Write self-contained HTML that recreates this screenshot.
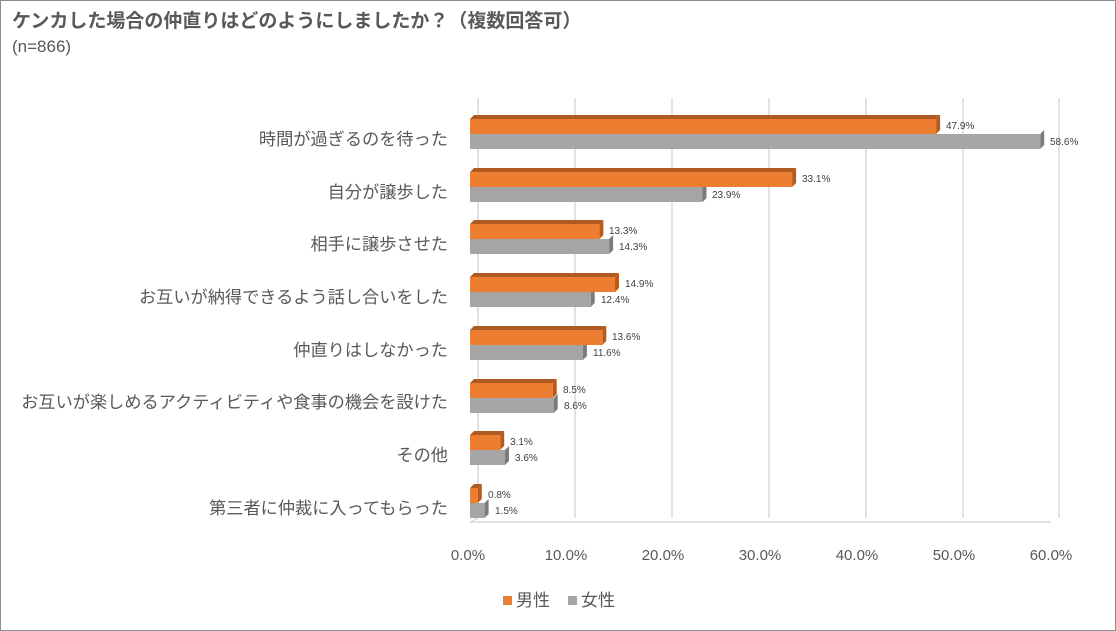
<!DOCTYPE html><html><head><style>body{margin:0}svg{display:block}</style></head><body>
<svg width="1116" height="631" xmlns="http://www.w3.org/2000/svg" font-family="Liberation Sans, Noto Sans CJK JP, sans-serif">
<rect x="0.5" y="0.5" width="1115" height="630" fill="#fff" stroke="#8c8c8c"/>
<text x="12" y="27" font-size="19" font-weight="bold" fill="#595959">ケンカした場合の仲直りはどのようにしましたか？（複数回答可）</text>
<text x="12" y="52" font-size="17" fill="#595959">(n=866)</text>
<g stroke="#d9d9d9" stroke-width="1.5">
<line x1="478" y1="98" x2="478" y2="518"/><line x1="575" y1="98" x2="575" y2="518"/><line x1="672" y1="98" x2="672" y2="518"/><line x1="769" y1="98" x2="769" y2="518"/><line x1="866" y1="98" x2="866" y2="518"/><line x1="963" y1="98" x2="963" y2="518"/><line x1="1059" y1="98" x2="1059" y2="518"/>
<line x1="470" y1="522" x2="478" y2="518"/><line x1="470" y1="522" x2="1051" y2="522"/>
</g>
<g font-size="10" fill="#404040">
<g transform="translate(470,134)">
<polygon points="570.2,0 574.2,-4 574.2,11 570.2,15" fill="#7b7b7b"/><rect width="570.2" height="15" fill="#a5a5a5"/>
<polygon points="0,-15 4,-19 470.1,-19 466.1,-15" fill="#ae5a21"/><polygon points="466.1,-15 470.1,-19 470.1,-4 466.1,0" fill="#b25c22"/><rect y="-15" width="466.1" height="15" fill="#ed7d31"/>
<text x="476" y="-5">47.9%</text><text x="580" y="11">58.6%</text></g>
<g transform="translate(470,187)">
<polygon points="232.5,0 236.5,-4 236.5,11 232.5,15" fill="#7b7b7b"/><rect width="232.5" height="15" fill="#a5a5a5"/>
<polygon points="0,-15 4,-19 326.1,-19 322.1,-15" fill="#ae5a21"/><polygon points="322.1,-15 326.1,-19 326.1,-4 322.1,0" fill="#b25c22"/><rect y="-15" width="322.1" height="15" fill="#ed7d31"/>
<text x="332" y="-5">33.1%</text><text x="242" y="11">23.9%</text></g>
<g transform="translate(470,239)">
<polygon points="139.1,0 143.1,-4 143.1,11 139.1,15" fill="#7b7b7b"/><rect width="139.1" height="15" fill="#a5a5a5"/>
<polygon points="0,-15 4,-19 133.4,-19 129.4,-15" fill="#ae5a21"/><polygon points="129.4,-15 133.4,-19 133.4,-4 129.4,0" fill="#b25c22"/><rect y="-15" width="129.4" height="15" fill="#ed7d31"/>
<text x="139" y="-5">13.3%</text><text x="149" y="11">14.3%</text></g>
<g transform="translate(470,292)">
<polygon points="120.7,0 124.7,-4 124.7,11 120.7,15" fill="#7b7b7b"/><rect width="120.7" height="15" fill="#a5a5a5"/>
<polygon points="0,-15 4,-19 149,-19 145,-15" fill="#ae5a21"/><polygon points="145,-15 149,-19 149,-4 145,0" fill="#b25c22"/><rect y="-15" width="145" height="15" fill="#ed7d31"/>
<text x="155" y="-5">14.9%</text><text x="131" y="11">12.4%</text></g>
<g transform="translate(470,345)">
<polygon points="112.9,0 116.9,-4 116.9,11 112.9,15" fill="#7b7b7b"/><rect width="112.9" height="15" fill="#a5a5a5"/>
<polygon points="0,-15 4,-19 136.3,-19 132.3,-15" fill="#ae5a21"/><polygon points="132.3,-15 136.3,-19 136.3,-4 132.3,0" fill="#b25c22"/><rect y="-15" width="132.3" height="15" fill="#ed7d31"/>
<text x="142" y="-5">13.6%</text><text x="123" y="11">11.6%</text></g>
<g transform="translate(470,398)">
<polygon points="83.7,0 87.7,-4 87.7,11 83.7,15" fill="#7b7b7b"/><rect width="83.7" height="15" fill="#a5a5a5"/>
<polygon points="0,-15 4,-19 86.7,-19 82.7,-15" fill="#ae5a21"/><polygon points="82.7,-15 86.7,-19 86.7,-4 82.7,0" fill="#b25c22"/><rect y="-15" width="82.7" height="15" fill="#ed7d31"/>
<text x="93" y="-5">8.5%</text><text x="94" y="11">8.6%</text></g>
<g transform="translate(470,450)">
<polygon points="35,0 39,-4 39,11 35,15" fill="#7b7b7b"/><rect width="35" height="15" fill="#a5a5a5"/>
<polygon points="0,-15 4,-19 34.2,-19 30.2,-15" fill="#ae5a21"/><polygon points="30.2,-15 34.2,-19 34.2,-4 30.2,0" fill="#b25c22"/><rect y="-15" width="30.2" height="15" fill="#ed7d31"/>
<text x="40" y="-5">3.1%</text><text x="45" y="11">3.6%</text></g>
<g transform="translate(470,503)">
<polygon points="14.6,0 18.6,-4 18.6,11 14.6,15" fill="#7b7b7b"/><rect width="14.6" height="15" fill="#a5a5a5"/>
<polygon points="0,-15 4,-19 11.8,-19 7.8,-15" fill="#ae5a21"/><polygon points="7.8,-15 11.8,-19 11.8,-4 7.8,0" fill="#b25c22"/><rect y="-15" width="7.8" height="15" fill="#ed7d31"/>
<text x="18" y="-5">0.8%</text><text x="25" y="11">1.5%</text></g>
</g>
<g font-size="17.2" fill="#595959" text-anchor="end">
<text x="448" y="145">時間が過ぎるのを待った</text>
<text x="448" y="198">自分が譲歩した</text>
<text x="448" y="250">相手に譲歩させた</text>
<text x="448" y="303">お互いが納得できるよう話し合いをした</text>
<text x="448" y="356">仲直りはしなかった</text>
<text x="448" y="408">お互いが楽しめるアクティビティや食事の機会を設けた</text>
<text x="448" y="461">その他</text>
<text x="448" y="514">第三者に仲裁に入ってもらった</text>
</g>
<g font-size="15" fill="#595959" text-anchor="middle">
<text x="468" y="560">0.0%</text><text x="566" y="560">10.0%</text><text x="663" y="560">20.0%</text><text x="760" y="560">30.0%</text><text x="857" y="560">40.0%</text><text x="954" y="560">50.0%</text><text x="1051" y="560">60.0%</text>
</g>
<rect x="503" y="596" width="9" height="9" fill="#ed7d31"/><text x="516" y="606" font-size="17" fill="#595959">男性</text>
<rect x="568" y="596" width="9" height="9" fill="#a5a5a5"/><text x="581" y="606" font-size="17" fill="#595959">女性</text>
</svg></body></html>
